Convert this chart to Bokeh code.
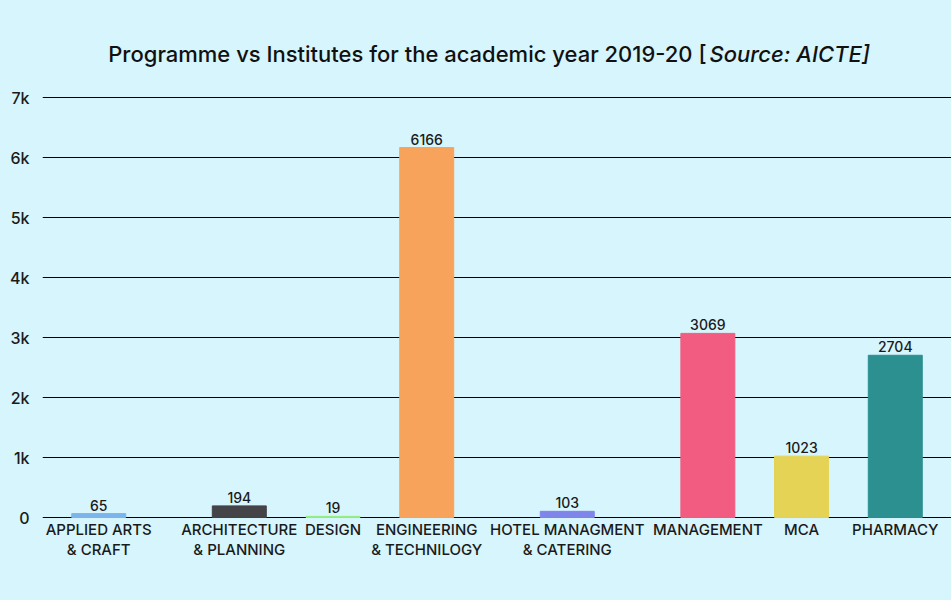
from bokeh.plotting import figure
from bokeh.models import ColumnDataSource, FactorRange, Range1d, FixedTicker, Label
from bokeh.embed import file_html
from bokeh.resources import INLINE
from bokeh.core.properties import value

# ---- data ----
categories = [
    "APPLIED ARTS & CRAFT",
    "ARCHITECTURE & PLANNING",
    "DESIGN",
    "ENGINEERING & TECHNILOGY",
    "HOTEL MANAGMENT & CATERING",
    "MANAGEMENT",
    "MCA",
    "PHARMACY",
]
label_line1 = ["APPLIED ARTS", "ARCHITECTURE", "DESIGN", "ENGINEERING",
               "HOTEL MANAGMENT", "MANAGEMENT", "MCA", "PHARMACY"]
label_line2 = ["& CRAFT", "& PLANNING", "", "& TECHNILOGY",
               "& CATERING", "", "", ""]
institutes = [65, 194, 19, 6166, 103, 3069, 1023, 2704]
bar_colors = ["#7cb5ec", "#434348", "#90ed7d", "#f7a35c",
              "#8085e9", "#f15c80", "#e4d354", "#2b908f"]
y_ticks = [0, 1000, 2000, 3000, 4000, 5000, 6000, 7000]
y_tick_labels = ["0", "1k", "2k", "3k", "4k", "5k", "6k", "7k"]

title_main = "Programme vs Institutes for the academic year 2019-20 ["
title_source = "Source: AICTE]"

# layout only: spacing groups for the categorical axis (wide labels get more room)
layout_groups = ["g1", "g2", "g2", "g2", "g3", "g4", "g4", "g4"]

BG = "#d6f5fd"
FONT_MED = "'Inter Medium', 'Inter Semi Bold', 'Inter SemiBold', Inter"
TXT = "#1a1a1a"

factors = list(zip(layout_groups, categories))

source = ColumnDataSource(dict(
    cat=factors,
    val=institutes,
    color=bar_colors,
    label=[str(v) for v in institutes],
    line1=label_line1,
    line2=label_line2,
    zero=[0] * len(categories),
))

p = figure(
    width=951, height=600,
    x_range=FactorRange(*factors, group_padding=0.5, factor_padding=0.0,
                        range_padding=0.1, range_padding_units="absolute"),
    y_range=Range1d(-1383, 8617),
    output_backend="svg",
    toolbar_location=None,
    title=None,
    min_border=0,
    min_border_left=42, min_border_right=0,
    min_border_top=0, min_border_bottom=0,
)
p.background_fill_color = BG
p.border_fill_color = BG
p.outline_line_color = None

p.vbar(x="cat", top="val", width=0.576, color="color", source=source)
p.text(x="cat", y="val", text="label", source=source,
       text_align="center", text_baseline="bottom", y_offset=-3,
       text_font=value(FONT_MED), text_font_size="14px", text_color=TXT)

# category labels (two lines) under the baseline
p.text(x="cat", y="zero", text="line1", source=source,
       text_align="center", text_baseline="middle", y_offset=12,
       text_font=value(FONT_MED), text_font_size="15px",
       text_color=TXT)
p.text(x="cat", y="zero", text="line2", source=source,
       text_align="center", text_baseline="middle", y_offset=32,
       text_font=value(FONT_MED), text_font_size="15px",
       text_color=TXT)

# y axis
p.yaxis.ticker = FixedTicker(ticks=y_ticks)
p.yaxis.major_label_overrides = {t: l for t, l in zip(y_ticks, y_tick_labels)}
p.yaxis.axis_line_color = None
p.yaxis.major_tick_line_color = None
p.yaxis.minor_tick_line_color = None
p.yaxis.major_tick_out = 0
p.yaxis.major_tick_in = 0
p.yaxis.major_label_standoff = 13
p.yaxis.major_label_text_font = FONT_MED
p.yaxis.major_label_text_font_size = "16px"
p.yaxis.major_label_text_color = TXT

p.xaxis.visible = False

p.xgrid.grid_line_color = None
p.ygrid.grid_line_color = "#000000"
p.ygrid.grid_line_width = 1
p.ygrid.grid_line_alpha = 1.0

# title (two parts, second italic)
p.add_layout(Label(x=664, y=547, x_units="screen", y_units="screen",
                   text=title_main, text_align="right", text_baseline="middle",
                   text_font=FONT_MED, text_font_size="22px", text_color="#111111"))
p.add_layout(Label(x=667, y=547, x_units="screen", y_units="screen",
                   text=title_source, text_align="left", text_baseline="middle",
                   text_font=FONT_MED, text_font_size="22px", text_font_style="italic",
                   text_color="#111111"))

template = """
{% block postamble %}
<style>html, body { background-color: #d6f5fd; }</style>
{% endblock %}
"""

open("out.html", "w").write(file_html(p, INLINE, template=template))
